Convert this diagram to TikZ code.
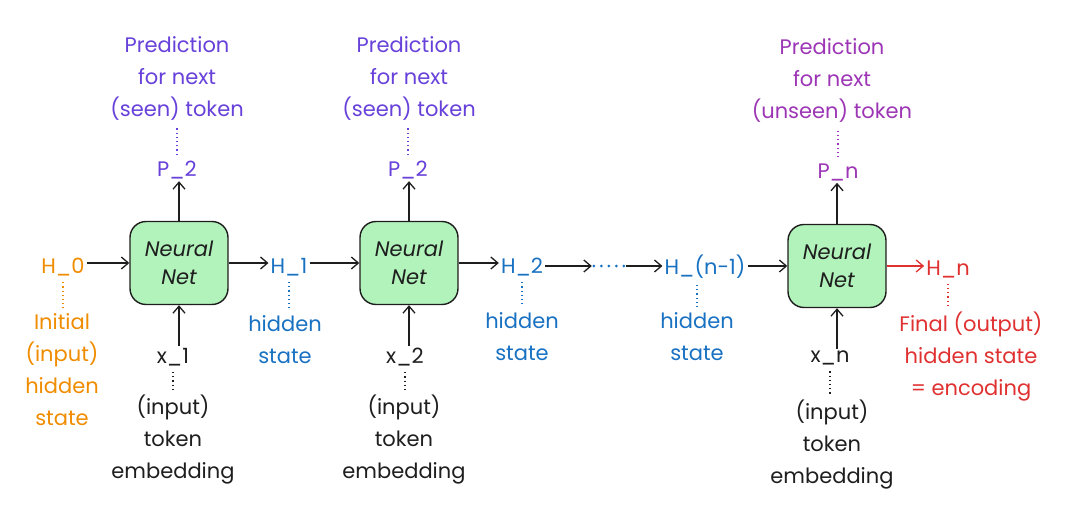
\documentclass[tikz,border=0pt]{standalone}
\usepackage{fontspec}
\setmainfont{Poppins}
\usetikzlibrary{arrows.meta}
\definecolor{cviolet}{HTML}{6741D9}
\definecolor{cgrape}{HTML}{9C36B5}
\definecolor{cblue}{HTML}{1971C2}
\definecolor{corange}{HTML}{F08C00}
\definecolor{cred}{HTML}{E03131}
\definecolor{cgreen}{HTML}{B2F2BB}
\definecolor{cink}{HTML}{1E1E1E}
\tikzset{
  txt/.style={align=center, inner sep=2pt, font=\fontsize{21}{32}\selectfont},
  netbox/.style={draw=cink, line width=1.4pt, fill=cgreen, rounded corners=16pt,
    minimum width=98pt, minimum height=83pt, align=center, text=cink,
    font=\fontsize{21}{28}\selectfont\itshape},
  arr/.style={draw=cink, line width=1.3pt, -{Straight Barb[length=7pt,width=12pt,line width=1.3pt]}},
  dotl/.style={line width=1.2pt, dash pattern=on 1.2pt off 3pt, shorten <=4pt, shorten >=4pt}
}
\begin{document}
\begin{tikzpicture}[x=1pt,y=-1pt]
\useasboundingbox (0,0) rectangle (1080,532);
% boxes
\node[netbox] (b1) at (179,263) {Neural\\Net};
\node[netbox] (b2) at (409,263) {Neural\\Net};
\node[netbox] (b3) at (837,266) {Neural\\Net};
% predictions
\node[txt, text=cviolet] (pred1) at (177,78) {Prediction\\for next\\(seen) token};
\node[txt, text=cviolet] (pred2) at (409,78) {Prediction\\for next\\(seen) token};
\node[txt, text=cgrape] (pred3) at (832,80) {Prediction\\for next\\(unseen) token};
\node[txt, text=cviolet] (p1) at (177,170) {P\_2};
\node[txt, text=cviolet] (p2) at (408,170) {P\_2};
\node[txt, text=cgrape] (pn) at (838,172) {P\_n};
% inputs
\node[txt, text=cink] (x1) at (173,357) {x\_1};
\node[txt, text=cink] (x2) at (405,357) {x\_2};
\node[txt, text=cink] (xn) at (830,358) {x\_n};
\node[txt, text=cink] (emb1) at (173,440) {(input)\\token\\embedding};
\node[txt, text=cink] (emb2) at (404,440) {(input)\\token\\embedding};
\node[txt, text=cink] (emb3) at (832,445) {(input)\\token\\embedding};
% hidden states
\node[txt, text=corange] (h0) at (63,267) {H\_0};
\node[txt, text=corange] (init) at (62,370) {Initial\\(input)\\hidden\\state};
\node[txt, text=cblue] (h1) at (289,267) {H\_1};
\node[txt, text=cblue] (hs1) at (285,340) {hidden\\state};
\node[txt, text=cblue] (h2) at (522,267) {H\_2};
\node[txt, text=cblue] (hs2) at (522,337) {hidden\\state};
\node[minimum width=34pt, minimum height=6pt, inner sep=0pt] (dots) at (609,266) {};
\node[txt, text=cblue] (hn1) at (705,267) {H\_(n-1)};
\node[txt, text=cblue] (hs3) at (697,337) {hidden\\state};
\node[txt, text=cred] (hn) at (948,269) {H\_n};
\node[txt, text=cred] (final) at (971,357) {Final (output)\\hidden state\\= encoding};
% horizontal arrows
\draw[arr] (h0.east |- b1.west) -- (b1.west);
\draw[arr] (b1.east) -- (b1.east -| h1.west);
\draw[arr] (h1.east |- b2.west) -- (b2.west);
\draw[arr] (b2.east) -- (b2.east -| h2.west);
\draw[arr] (h2.east |- dots.west) -- (dots.west);
\draw[cblue, line width=3pt, line cap=round, dash pattern=on 0pt off 7.5pt] (dots.west) ++(2,0) -- (dots.east);
\draw[arr] (dots.east) -- (dots.east -| hn1.west);
\draw[arr, line width=2pt] (hn1.east |- b3.west) -- (b3.west);
\draw[arr, draw=cred, -{Straight Barb[length=7pt,width=12pt,line width=1.3pt]}] (b3.east) -- (b3.east -| hn.west);
% vertical arrows
\draw[arr] (b1.north) -- (b1.north |- p1.south);
\draw[arr] (b2.north) -- (b2.north |- p2.south);
\draw[arr] (b3.north) -- (b3.north |- pn.south);
\draw[arr] (b1.south |- x1.north) -- (b1.south);
\draw[arr] (b2.south |- x2.north) -- (b2.south);
\draw[arr] (b3.south |- xn.north) -- (b3.south);
% dotted leaders
\draw[dotl, cviolet] (p1.north) -- (p1.north |- pred1.south);
\draw[dotl, cviolet] (p2.north) -- (p2.north |- pred2.south);
\draw[dotl, cgrape] (pn.north) -- (pn.north |- pred3.south);
\draw[dotl, cink] (x1.south) -- (x1.south |- emb1.north);
\draw[dotl, cink] (x2.south) -- (x2.south |- emb2.north);
\draw[dotl, cink] (xn.south) -- (xn.south |- emb3.north);
\draw[dotl, corange] (h0.south) -- (h0.south |- init.north);
\draw[dotl, cblue] (h1.south) -- (h1.south |- hs1.north);
\draw[dotl, cblue] (h2.south) -- (h2.south |- hs2.north);
\draw[dotl, cblue] (hs3.north |- hn1.south) -- (hs3.north);
\draw[dotl, cred] (hn.south) -- (hn.south |- final.north);
\end{tikzpicture}
\end{document}
